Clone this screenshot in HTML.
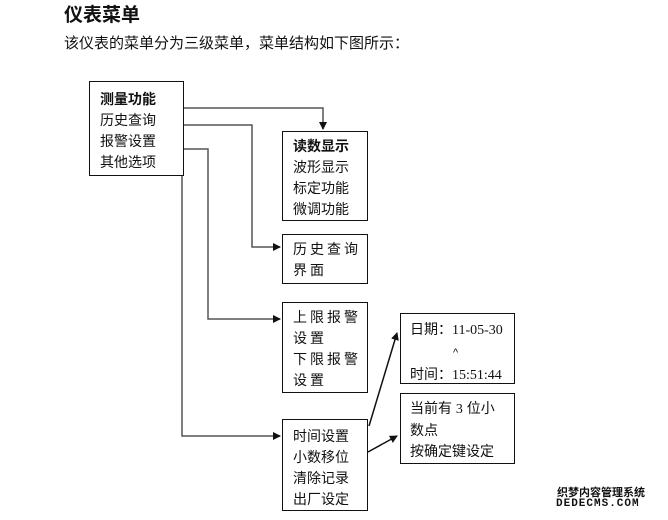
<!DOCTYPE html>
<html><head><meta charset="utf-8"><style>
body{margin:0;width:668px;height:520px;background:#fff;position:relative;overflow:hidden;font-family:"Liberation Sans","Noto Sans CJK SC",sans-serif;color:#111}
.t{position:absolute;white-space:nowrap}
.b{position:absolute;border:1.5px solid #111;box-sizing:border-box;font-size:14px;line-height:21px;padding:0 0 0 10px;background:#fff}
svg{position:absolute;left:0;top:0}
</style></head><body>
<div class="t" style="left:64px;top:0px;font-size:19px;font-weight:bold">仪表菜单</div>
<div class="t" style="left:64px;top:32px;font-size:15px">该仪表的菜单分为三级菜单，菜单结构如下图所示：</div>
<svg width="668" height="520">
<defs><marker id="a" markerWidth="8" markerHeight="8" refX="7" refY="4" orient="auto" markerUnits="userSpaceOnUse"><path d="M0,0L8,4L0,8z" fill="#111"/></marker></defs>
<g fill="none" stroke="#555" stroke-width="1.5">
<polyline points="183,108 323,108 323,129" marker-end="url(#a)"/>
<polyline points="183,125 252,125 252,247 280,247" marker-end="url(#a)"/>
<polyline points="183,149 208,149 208,319 280,319" marker-end="url(#a)"/>
<polyline points="182,175 182,436 280,436" marker-end="url(#a)"/>
<line x1="369" y1="426" x2="397" y2="333" marker-end="url(#a)" stroke="#111"/>
<line x1="368" y1="452" x2="397" y2="436" marker-end="url(#a)" stroke="#111"/>
</g></svg>
<div class="b" style="left:89px;top:81px;width:95px;height:95px;padding-top:7px;background:transparent"><b>测量功能</b><br>历史查询<br>报警设置<br>其他选项</div>
<div class="b" style="left:282px;top:131px;width:86px;height:90px;padding-top:4px"><b>读数显示</b><br>波形显示<br>标定功能<br>微调功能</div>
<div class="b" style="left:282px;top:234px;width:86px;height:50px;padding-top:4px;letter-spacing:3px">历史查询<br>界面</div>
<div class="b" style="left:282px;top:302px;width:86px;height:91px;padding-top:4px;letter-spacing:3px">上限报警<br>设置<br>下限报警<br>设置</div>
<div class="b" style="left:282px;top:419px;width:86px;height:92px;padding-top:6px">时间设置<br>小数移位<br>清除记录<br>出厂设定</div>
<div class="b" style="left:400px;top:313px;width:115px;height:71px;padding-top:5px;padding-left:9px">日期：<span style="font-family:'Liberation Serif',serif">11-05-30</span><br><span style="margin-left:43px;font-size:11px">^</span><br>时间：<span style="font-family:'Liberation Serif',serif">15:51:44</span></div>
<div class="b" style="left:400px;top:393px;width:115px;height:71px;padding-top:4px;padding-left:9px">当前有 <span style="font-family:'Liberation Serif',serif">3</span> 位小<br>数点<br>按确定键设定</div>
<div class="t" style="left:557px;top:484px;font-size:11px;font-weight:bold">织梦内容管理系统</div>
<div class="t" style="left:556px;top:498px;font-size:11px;font-weight:bold;letter-spacing:1px;font-family:'Liberation Mono',monospace">DEDECMS.COM</div>
</body></html>
